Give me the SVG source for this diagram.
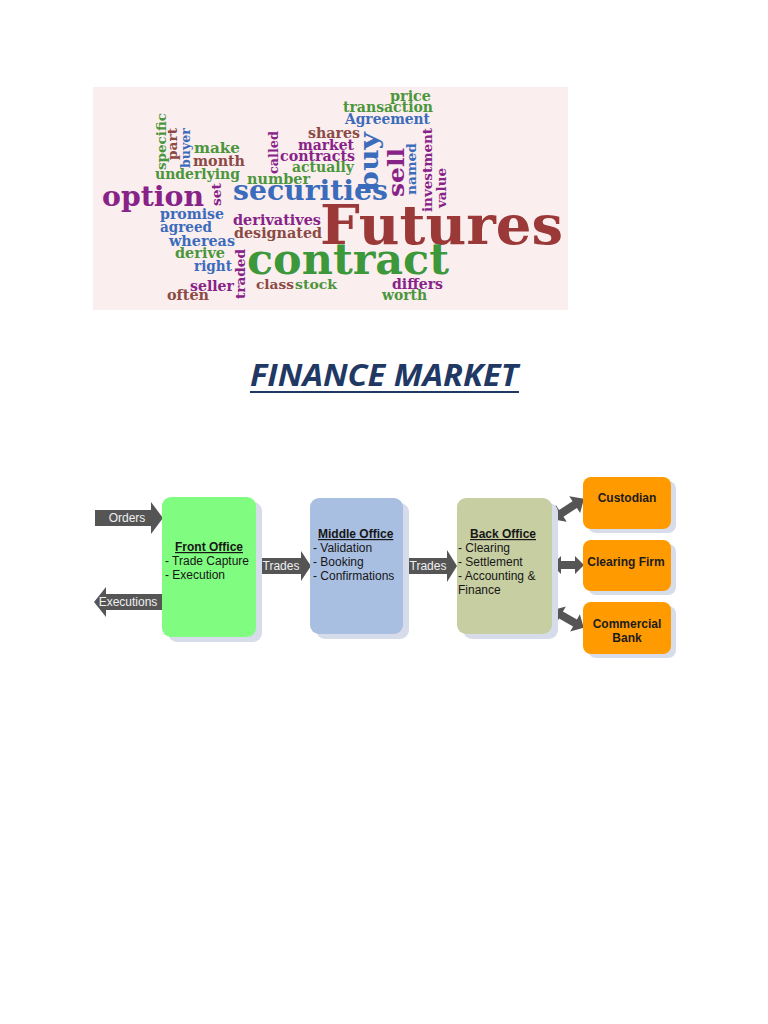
<svg xmlns="http://www.w3.org/2000/svg" width="768" height="1024" viewBox="0 0 768 1024">
<style>
.w{font-family:"DejaVu Serif",serif;font-weight:bold}
.g{fill:#4b963c}.p{fill:#872388}.b{fill:#3b6cbb}.r{fill:#8c4a46}
.box{stroke:none}
.sh{fill:#d7dcea}
.t{font-family:"Liberation Sans",Arial,sans-serif;font-size:12px;fill:#161616}
.h{font-weight:bold;text-decoration:underline}
.ob{font-family:"Liberation Sans",Arial,sans-serif;font-size:12px;font-weight:bold;fill:#1c1c1c;text-anchor:middle}
.arr{fill:#555555}
.at{font-family:"Liberation Sans",Arial,sans-serif;font-size:12px;fill:#f0f0f0;text-anchor:middle}
</style>
<rect width="768" height="1024" fill="#ffffff"/>

<g id="wordcloud">
<rect x="93" y="87" width="475" height="223" fill="#fbeeee"/>
<text class="w g" x="390" y="101" font-size="14" textLength="41" lengthAdjust="spacingAndGlyphs">price</text>
<text class="w g" x="343" y="112" font-size="14" textLength="90" lengthAdjust="spacingAndGlyphs">transaction</text>
<text class="w b" x="345" y="124" font-size="14" textLength="85" lengthAdjust="spacingAndGlyphs">Agreement</text>
<text class="w r" x="308" y="138" font-size="14" textLength="52" lengthAdjust="spacingAndGlyphs">shares</text>
<text class="w p" x="298" y="150" font-size="14" textLength="56" lengthAdjust="spacingAndGlyphs">market</text>
<text class="w p" x="280" y="161" font-size="14" textLength="75" lengthAdjust="spacingAndGlyphs">contracts</text>
<text class="w g" x="292" y="172" font-size="14" textLength="62" lengthAdjust="spacingAndGlyphs">actually</text>
<text class="w g" x="247" y="184" font-size="14" textLength="63" lengthAdjust="spacingAndGlyphs">number</text>
<text class="w b" x="233" y="200" font-size="27" textLength="155" lengthAdjust="spacingAndGlyphs">securities</text>
<text class="w p" x="233" y="225" font-size="14" textLength="88" lengthAdjust="spacingAndGlyphs">derivatives</text>
<text class="w r" x="234" y="238" font-size="14" textLength="88" lengthAdjust="spacingAndGlyphs">designated</text>
<text class="w" x="320" y="244" font-size="55" fill="#9b3838" textLength="243" lengthAdjust="spacingAndGlyphs">Futures</text>
<text class="w" x="247" y="274" font-size="42" fill="#3d983b" textLength="202" lengthAdjust="spacingAndGlyphs">contract</text>
<text class="w p" x="392" y="289" font-size="14" textLength="51" lengthAdjust="spacingAndGlyphs">differs</text>
<text class="w g" x="382" y="300" font-size="14" textLength="45" lengthAdjust="spacingAndGlyphs">worth</text>
<text class="w g" x="295" y="289" font-size="13" textLength="42" lengthAdjust="spacingAndGlyphs">stock</text>
<text class="w r" x="256" y="289" font-size="13" textLength="38" lengthAdjust="spacingAndGlyphs">class</text>
<text class="w p" x="190" y="291" font-size="14" textLength="44" lengthAdjust="spacingAndGlyphs">seller</text>
<text class="w r" x="167" y="300" font-size="14" textLength="42" lengthAdjust="spacingAndGlyphs">often</text>
<text class="w b" x="194" y="271" font-size="14" textLength="38" lengthAdjust="spacingAndGlyphs">right</text>
<text class="w g" x="175" y="258" font-size="14" textLength="50" lengthAdjust="spacingAndGlyphs">derive</text>
<text class="w b" x="169" y="246" font-size="14" textLength="66" lengthAdjust="spacingAndGlyphs">whereas</text>
<text class="w b" x="160" y="232" font-size="14" textLength="52" lengthAdjust="spacingAndGlyphs">agreed</text>
<text class="w b" x="160" y="219" font-size="14" textLength="64" lengthAdjust="spacingAndGlyphs">promise</text>
<text class="w p" x="102" y="206" font-size="28" textLength="102" lengthAdjust="spacingAndGlyphs">option</text>
<text class="w g" x="155" y="179" font-size="14" textLength="85" lengthAdjust="spacingAndGlyphs">underlying</text>
<text class="w r" x="193" y="166" font-size="14" textLength="52" lengthAdjust="spacingAndGlyphs">month</text>
<text class="w g" x="194" y="153" font-size="14" textLength="46" lengthAdjust="spacingAndGlyphs">make</text>
<text class="w g" font-size="13" textLength="57" lengthAdjust="spacingAndGlyphs" transform="translate(166,170) rotate(-90)">specific</text>
<text class="w r" font-size="13" textLength="32" lengthAdjust="spacingAndGlyphs" transform="translate(177,160) rotate(-90)">part</text>
<text class="w b" font-size="13" textLength="40" lengthAdjust="spacingAndGlyphs" transform="translate(190,168) rotate(-90)">buyer</text>
<text class="w p" font-size="13" textLength="43" lengthAdjust="spacingAndGlyphs" transform="translate(278,174) rotate(-90)">called</text>
<text class="w p" font-size="13" textLength="23" lengthAdjust="spacingAndGlyphs" transform="translate(221,206) rotate(-90)">set</text>
<text class="w p" font-size="13" textLength="50" lengthAdjust="spacingAndGlyphs" transform="translate(245,299) rotate(-90)">traded</text>
<text class="w b" font-size="26" textLength="60" lengthAdjust="spacingAndGlyphs" transform="translate(378,192) rotate(-90)">buy</text>
<text class="w p" font-size="22" textLength="49" lengthAdjust="spacingAndGlyphs" transform="translate(404,197) rotate(-90)">sell</text>
<text class="w b" font-size="13" textLength="52" lengthAdjust="spacingAndGlyphs" transform="translate(416,195) rotate(-90)">named</text>
<text class="w p" font-size="13" textLength="84" lengthAdjust="spacingAndGlyphs" transform="translate(432,212) rotate(-90)">investment</text>
<text class="w p" font-size="13" textLength="40" lengthAdjust="spacingAndGlyphs" transform="translate(446,208) rotate(-90)">value</text>
</g>

<g id="title">
<text x="250" y="386" font-family="'Open Sans','Liberation Sans',sans-serif" font-size="30" font-weight="bold" font-style="italic" fill="#1f3864" textLength="268" lengthAdjust="spacingAndGlyphs">FINANCE MARKET</text>
<rect x="250" y="391" width="269" height="2" fill="#1f3864"/>
</g>

<g id="connectors">
<path class="arr" d="M95,510 H151 V502 L163,518 L151,534 V526 H95 Z"/>
<text class="at" x="127" y="522">Orders</text>
<path class="arr" d="M162,594 H106 V587 L94,602 L106,617 V610 H162 Z"/>
<text class="at" x="128" y="606">Executions</text>
<path class="arr" d="M255,558 H301 V551 L311,566 L301,581 V574 H255 Z"/>
<text class="at" x="281" y="570">Trades</text>
<path class="arr" d="M402,558 H447 V550 L457,566 L447,582 V574 H402 Z"/>
<text class="at" x="428" y="570">Trades</text>
<path class="arr" transform="translate(568,509) rotate(-33)" d="M-19,0 L-8,-10 V-4 H8 V-10 L19,0 L8,10 V4 H-8 V10 Z"/>
<path class="arr" transform="translate(568,565)" d="M-16,0 L-7,-9 V-4 H7 V-9 L16,0 L7,9 V4 H-7 V9 Z"/>
<path class="arr" transform="translate(568,619) rotate(29)" d="M-18,0 L-8,-10 V-4 H8 V-10 L18,0 L8,10 V4 H-8 V10 Z"/>
</g>

<g id="front-office">
<rect class="sh" x="168" y="502" width="94" height="140" rx="9"/>
<rect x="162" y="497" width="94" height="140" rx="9" fill="#80fc80"/>
<text class="t h" x="175" y="551">Front Office</text>
<text class="t" x="165" y="565">- Trade Capture</text>
<text class="t" x="165" y="579">- Execution</text>
</g>

<g id="middle-office">
<rect class="sh" x="316" y="503" width="93" height="136" rx="9"/>
<rect x="310" y="498" width="93" height="136" rx="9" fill="#a9bfe2"/>
<text class="t h" x="318" y="538">Middle Office</text>
<text class="t" x="313" y="552">- Validation</text>
<text class="t" x="313" y="566">- Booking</text>
<text class="t" x="313" y="580">- Confirmations</text>
</g>

<g id="back-office">
<rect class="sh" x="463" y="503" width="95" height="136" rx="9"/>
<rect x="457" y="498" width="95" height="136" rx="9" fill="#c6cea2"/>
<text class="t h" x="470" y="538">Back Office</text>
<text class="t" x="458" y="552">- Clearing</text>
<text class="t" x="458" y="566">- Settlement</text>
<text class="t" x="458" y="580">- Accounting &amp;</text>
<text class="t" x="458" y="594">Finance</text>
</g>

<g id="custodian">
<rect class="sh" x="588" y="481" width="88" height="52" rx="8"/>
<rect x="583" y="477" width="88" height="52" rx="8" fill="#ff9a00"/>
<text class="ob" x="627" y="502">Custodian</text>
</g>

<g id="clearing-firm">
<rect class="sh" x="588" y="544" width="88" height="51" rx="8"/>
<rect x="583" y="540" width="88" height="51" rx="8" fill="#ff9a00"/>
<text class="ob" x="626" y="566">Clearing Firm</text>
</g>

<g id="commercial-bank">
<rect class="sh" x="588" y="606" width="88" height="52" rx="8"/>
<rect x="583" y="602" width="88" height="52" rx="8" fill="#ff9a00"/>
<text class="ob" x="627" y="628">Commercial</text>
<text class="ob" x="627" y="642">Bank</text>
</g>
</svg>
